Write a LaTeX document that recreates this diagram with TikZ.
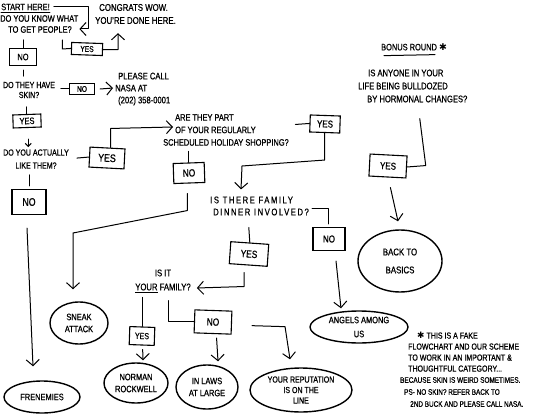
\documentclass[tikz,border=0pt]{standalone}
\usepackage{fontspec}
\setmainfont[FakeStretch=0.8,FakeBold=0.8]{Liberation Sans}
\newfontfamily\symf{DejaVu Sans}
\usetikzlibrary{arrows.meta,shapes.geometric,calc}
\begin{document}
\begin{tikzpicture}[x=1pt,y=-1pt,
  txt/.style={inner sep=0pt, font=\fontsize{9.3}{12.5}\selectfont},
  bx/.style={draw, line width=1.1pt, inner sep=1.5pt, font=\fontsize{9.3}{9}\selectfont},
  ell/.style={ellipse, draw, line width=1.4pt, align=center, inner sep=0pt, font=\fontsize{9.3}{12}\selectfont},
  ln/.style={line width=1pt, line cap=round, line join=round},
  arr/.style={ln, -{Straight Barb[length=6pt,width=13pt]}},
  sarr/.style={ln, -{Straight Barb[length=3pt,width=6pt]}}]
\fill[white] (0,0) rectangle (540,417);
\useasboundingbox (0,0) rectangle (540,417);

% ---- text nodes
\node[txt, anchor=west] (start) at (1,7) {START HERE!};
\node[txt, anchor=west, align=left, font=\fontsize{9.3}{11}\selectfont] (q1) at (0,24) {DO YOU KNOW WHAT\\\hspace*{8pt}TO GET PEOPLE?};
\node[txt, anchor=west, align=left, font=\fontsize{9.8}{13}\selectfont] (congrats) at (95,14) {\hspace*{4pt}CONGRATS WOW.\\YOU'RE DONE HERE.};
\node[txt, align=center, font=\fontsize{8.8}{10}\selectfont] (q2) at (29,90) {DO THEY HAVE\\SKIN?};
\node[txt, anchor=west, align=left, font=\fontsize{9.5}{12}\selectfont] (nasa) at (115,89) {\hspace*{3pt}PLEASE CALL\\NASA AT\\\hspace*{3pt}(202) 358-0001};
\node[txt, align=center, font=\fontsize{8.8}{13}\selectfont] (q3) at (36,159) {DO YOU ACTUALLY\\LIKE THEM?};
\node[txt, anchor=west, align=left] (q4) at (163,130) {\hspace*{12pt}ARE THEY PART\\\hspace*{12pt}OF YOUR REGULARLY\\SCHEDULED HOLIDAY SHOPPING?};
\node[txt, anchor=west, align=left, font=\fontsize{9.6}{12}\selectfont\addfontfeature{LetterSpace=16}] (q5) at (210,206) {IS THERE FAMILY\\\hspace*{3pt}DINNER INVOLVED?};
\node[txt, align=center, font=\fontsize{9.6}{14}\selectfont] (q6) at (163,281) {IS IT\\\underline{YOUR} FAMILY?};
\node[txt] (bonus) at (414,47) {BONUS ROUND {\symf ✱}};
\node[txt, anchor=west, align=left, font=\fontsize{9.5}{13}\selectfont] (q7) at (358,86) {\hspace*{10pt}IS ANYONE IN YOUR\\LIFE BEING BULLDOZED\\\hspace*{9pt}BY HORMONAL CHANGES?};
\node[txt, anchor=north west, align=left, font=\fontsize{8.8}{11}\selectfont] (fnA) at (408,332) {\hspace*{9pt}{\symf ✱} THIS IS A FAKE\\FLOWCHART AND OUR SCHEME\\TO WORK IN AN IMPORTANT \&\\THOUGHTFUL CATEGORY...};
\node[txt, anchor=north west, align=left, font=\fontsize{8}{12}\selectfont] (fnB) at (400,377) {BECAUSE SKIN IS WEIRD SOMETIMES.\\\hspace*{4pt}PS- NO SKIN? REFER BACK TO\\\hspace*{10pt}2ND BUCK AND PLEASE CALL NASA.};

% ---- boxes
\node[bx, minimum width=31pt, minimum height=12pt, font=\fontsize{8.3}{8}\selectfont, rotate=-2] (yes1) at (87,49) {YES};
\node[bx, minimum width=27pt, minimum height=17pt] (no1) at (23,57) {NO};
\node[bx, minimum width=25pt, minimum height=11pt, font=\fontsize{8.3}{8}\selectfont] (no2) at (82,89) {NO};
\node[bx, minimum width=28pt, minimum height=13pt, rotate=2] (yes2) at (27,121) {YES};
\node[bx, minimum width=35pt, minimum height=20pt, font=\fontsize{11}{11}\selectfont, rotate=-3] (yes3) at (107,158) {YES};
\node[bx, minimum width=34pt, minimum height=25pt, font=\fontsize{11}{11}\selectfont] (no3) at (29,202) {NO};
\node[bx, minimum width=31pt, minimum height=20pt, font=\fontsize{10.4}{10}\selectfont, rotate=2] (no4) at (189,173) {NO};
\node[bx, minimum width=30pt, minimum height=17pt, font=\fontsize{10}{10}\selectfont, rotate=-2] (yes4) at (325,124) {YES};
\node[bx, minimum width=32pt, minimum height=23pt, font=\fontsize{10}{10}\selectfont] (no5) at (329,239) {NO};
\node[bx, minimum width=38pt, minimum height=22pt, font=\fontsize{10.4}{10}\selectfont, rotate=-4] (yes5) at (249,254) {YES};
\node[bx, minimum width=25pt, minimum height=18pt, font=\fontsize{8.8}{9}\selectfont, rotate=-2] (yes6) at (142,336) {YES};
\node[bx, minimum width=37pt, minimum height=23pt, font=\fontsize{10.4}{10}\selectfont, rotate=-2] (no6) at (213,322) {NO};
\node[bx, minimum width=37pt, minimum height=22pt, font=\fontsize{10}{10}\selectfont, rotate=-3] (yes7) at (388,166) {YES};

% ---- outcomes
\node[ell, minimum width=76pt, minimum height=32pt] (fren) at (42,397) {FRENEMIES};
\node[ell, minimum width=58pt, minimum height=42pt] (sneak) at (79,323) {SNEAK\\ATTACK};
\node[ell, minimum width=64pt, minimum height=40pt] (norman) at (136,383) {NORMAN\\ROCKWELL};
\node[ell, minimum width=62pt, minimum height=44pt] (inlaws) at (207,387) {IN LAWS\\AT LARGE};
\node[ell, minimum width=102pt, minimum height=44pt, font=\fontsize{8.8}{10.5}\selectfont] (rep) at (301,390) {YOUR REPUTATION\\IS ON THE\\LINE};
\node[ell, minimum width=98pt, minimum height=32pt, font=\fontsize{9.3}{14}\selectfont] (angels) at (359,327) {ANGELS AMONG\\US};
\node[ell, minimum width=84pt, minimum height=62pt, font=\fontsize{9.8}{18}\selectfont] (basics) at (400,261) {BACK TO\\BASICS};

% ---- underlines
\draw[ln] ([yshift=-2.5pt]start.south west) -- ([yshift=-2.5pt]start.south east);
\draw[ln] ([xshift=3pt,yshift=-5pt]bonus.south west) -- ([xshift=-12pt,yshift=-4pt]bonus.south east);

% ---- connectors
\draw[arr] ([xshift=4pt]start.east) -- (88,7) -- (88,29) -- ($(q1.east)+(1,5)$);
\draw[ln] ($(q1.south east)+(-16,7)$) -- ++(0,9) -- (yes1.west);
\draw[arr] (yes1.east) -- ++(15,0) -- ($(congrats.south west)+(23,9)$);
\draw[ln] (no1.north) -- ++(0,-8);
\draw[ln] ($(no1.south)+(0,4)$) -- ++(0,6);
\draw[ln] (no2.west) -- ++(-8,0);
\draw[arr] ($(no2.east)+(5,0)$) -- ($(nasa.west)+(-2,-1)$);
\draw[ln] (yes2.north) -- ++(0,-7);
\draw[sarr] ($(yes2.south)+(1,11)$) -- ++(0,8);
\draw[ln] (yes3.west) -- ++(-12,1);
\draw[arr] ($(yes3.north)+(3,0)$) -- ++(0,-19) -- ($(q4.west)+(10,-3)$);
\draw[ln] ($(no3.north)+(0,-3)$) -- ++(0,-11);
\draw[arr] ($(no3.south)+(-2,13)$) -- ($(fren.north)+(-9,-14)$);
\draw[ln] (no4.north) -- ++(0,-11);
\draw[arr] ($(no4.south)+(-2,10)$) -- ++(0,17) -- (73,233) -- ($(sneak.north)+(-6,-12)$);
\draw[ln] (yes4.west) -- ++(-14,1);
\draw[arr] (yes4.south) -- ++(0,27) -- (242,166) -- ($(q5.north west)+(31,-7)$);
\draw[ln] ($(q5.east)+(3,2)$) -| ($(no5.north)+(-1,-3)$);
\draw[ln] (yes5.north) -- ++(-1,-15);
\draw[arr] ($(yes5.south)+(-4,7)$) -- ++(0,14) -- ($(q6.east)+(6,7)$);
\draw[ln] (yes6.north) -- ++(0,-29);
\draw[ln] ($(q6.south)+(5,8)$) |- (no6.west);
\draw[arr] ($(yes6.south)+(1,4)$) -- ($(norman.north)+(7,-2)$);
\draw[arr] ($(no6.south)+(4,4)$) -- ($(inlaws.north)+(11,-3)$);
\draw[arr] ($(no6.east)+(20,3)$) -- ++(33,1) -- ($(rep.north)+(-11,-8)$);
\draw[arr] ($(no5.south)+(7,10)$) -- ($(angels.north)+(-18,-2)$);
\draw[ln] ($(q7.south)+(7,16)$) -- ++(6,47) -- (yes7.east);
\draw[arr] ($(yes7.south)+(3,10)$) -- ($(basics.north)+(-2,-8)$);
\end{tikzpicture}
\end{document}
